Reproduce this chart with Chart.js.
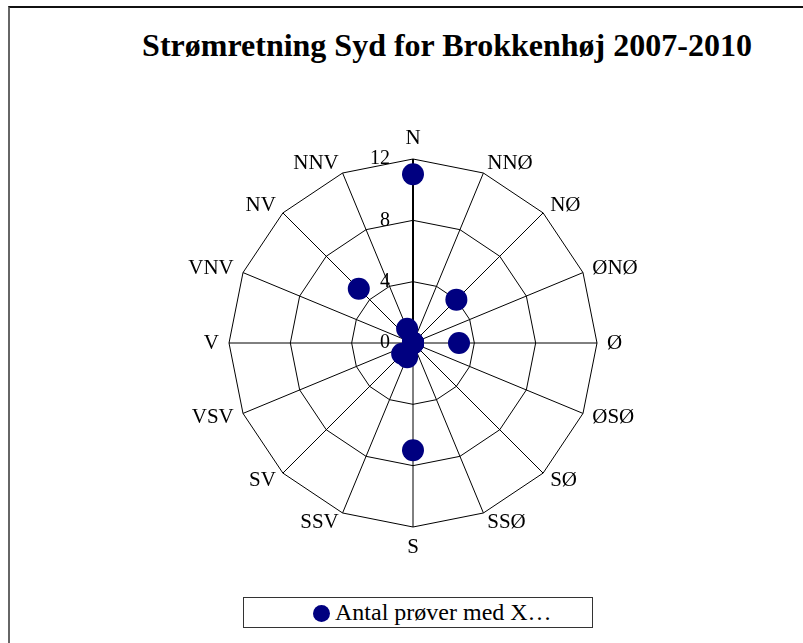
<!DOCTYPE html>
<html>
<head>
<meta charset="utf-8">
<script src="https://cdn.jsdelivr.net/npm/chart.js@4/dist/chart.umd.min.js"></script>
<style>
  body { margin: 0; background: #fff; width: 803px; height: 643px; overflow: hidden; position: relative; font-family: 'Liberation Serif', 'Times New Roman', serif; }
  #frame { position: absolute; left: 8px; top: 6px; width: 900px; height: 700px; border-top: 2px solid #111; border-left: 2px solid #666; }
  #title { position: absolute; left: 0; width: 894px; top: 27px; text-align: center; font-weight: bold; font-size: 32px; line-height: 36px; color: #000; white-space: nowrap; }
  #wrap { position: absolute; left: 133px; top: 124px; width: 560px; height: 438px; }
  #legend { position: absolute; left: 243px; top: 597px; width: 350px; height: 31px; box-sizing: border-box; border: 1px solid #333; background: #fff; }
  #legend .dot { position: absolute; left: 69px; top: 7px; width: 17px; height: 17px; border-radius: 50%; background: #000080; }
  #legend .txt { position: absolute; left: 91px; top: 1px; font-size: 24px; line-height: 26px; color: #000; white-space: nowrap; }
</style>
</head>
<body>
<div id="frame"></div>
<div id="title">Strømretning Syd for Brokkenhøj 2007-2010</div>
<div id="wrap"><canvas id="stroemChart"></canvas></div>
<div id="legend"><span class="dot"></span><span class="txt">Antal prøver med X…</span></div>
<script>
const retninger = ['N', 'NNØ', 'NØ', 'ØNØ', 'Ø', 'ØSØ', 'SØ', 'SSØ', 'S', 'SSV', 'SV', 'VSV', 'V', 'VNV', 'NV', 'NNV'];
const antalProever = [11, 0, 4, 0, 3, 0, 0, 0, 7, 1, 1, 0, 0, 0, 5, 1];
const aksetal = [0, 4, 8, 12];
const serieNavn = 'Antal prøver med X…';

// tal paa vaerdiaksen (til venstre for N-linjen) og retningsnavne rundt om nettet
const akseTekster = {
    id: 'akseTekster',
    beforeDatasetsDraw(chart) {
        const r = chart.scales.r;
        const ctx = chart.ctx;
        ctx.save();
        ctx.fillStyle = '#000';

        ctx.font = '20px "Liberation Serif", serif';
        ctx.textAlign = 'right';
        ctx.textBaseline = 'middle';
        aksetal.forEach(v => {
            const p = r.getPointPositionForValue(0, v);
            ctx.fillText(String(v), r.xCenter - 23, p.y);
        });

        ctx.font = '21px "Liberation Serif", serif';
        chart.data.labels.forEach((lbl, i) => {
            const a = r.getIndexAngle(i);
            const p = r.getPointPosition(i, r.drawingArea + 10);
            if (Math.abs(a) < 0.01 || Math.abs(a - 2 * Math.PI) < 0.01) {
                ctx.textAlign = 'center';
                ctx.textBaseline = 'bottom';
            } else if (Math.abs(a - Math.PI) < 0.01) {
                ctx.textAlign = 'center';
                ctx.textBaseline = 'top';
            } else {
                ctx.textAlign = a < Math.PI ? 'left' : 'right';
                ctx.textBaseline = 'middle';
            }
            ctx.fillText(lbl, p.x, p.y);
        });
        ctx.restore();
    }
};

const ctx = document.getElementById('stroemChart').getContext('2d');
new Chart(ctx, {
    type: 'radar',
    data: {
        labels: retninger,
        datasets: [{
            label: serieNavn,
            data: antalProever,
            showLine: false,
            fill: false,
            clip: false,
            borderWidth: 0,
            pointRadius: 11,
            pointHoverRadius: 11,
            pointBackgroundColor: '#000080',
            pointBorderColor: '#000080',
            pointBorderWidth: 0
        }]
    },
    options: {
        responsive: true,
        maintainAspectRatio: false,
        animation: false,
        layout: { padding: { top: 35, bottom: 35, left: 0, right: 0 } },
        plugins: {
            legend: { display: false },
            title: { display: false },
            tooltip: { enabled: false }
        },
        scales: {
            r: {
                min: 0,
                max: 12,
                beginAtZero: true,
                ticks: { stepSize: 4, display: false },
                grid: { color: '#000', lineWidth: 1, circular: false },
                angleLines: {
                    color: '#000',
                    lineWidth: c => (c.index === 0 ? 2 : 1)
                },
                pointLabels: { display: false }
            }
        }
    },
    plugins: [akseTekster]
});
</script>
</body>
</html>
